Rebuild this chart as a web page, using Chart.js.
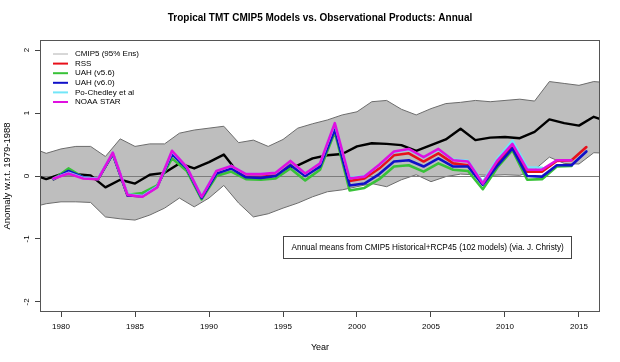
<!DOCTYPE html>
<html>
<head>
<meta charset="utf-8">
<script src="https://cdn.jsdelivr.net/npm/chart.js@4.4.1/dist/chart.umd.min.js"></script>
<style>
  html, body { margin: 0; padding: 0; background: #fff; }
  #wrap { width: 620px; height: 362px; }
</style>
</head>
<body>
<div id="wrap"><canvas id="chart"></canvas></div>
<script>
// CMIP5 ensemble (mean + 95% envelope), one value per year
const modelYears = [1978, 1979, 1980, 1981, 1982, 1983, 1984, 1985, 1986, 1987,
  1988, 1989, 1990, 1991, 1992, 1993, 1994, 1995, 1996, 1997,
  1998, 1999, 2000, 2001, 2002, 2003, 2004, 2005, 2006, 2007,
  2008, 2009, 2010, 2011, 2012, 2013, 2014, 2015, 2016, 2017];
const cmipMean = [0.03, -0.05, 0.03, 0.03, 0.01, -0.18, -0.06, -0.12, 0.02, 0.05,
  0.20, 0.12, 0.22, 0.34, 0.04, -0.04, -0.03, 0.10, 0.17, 0.28,
  0.33, 0.35, 0.47, 0.52, 0.51, 0.49, 0.40, 0.49, 0.58, 0.75,
  0.57, 0.61, 0.62, 0.60, 0.70, 0.90, 0.84, 0.80, 0.94, 0.86];
const cmipUpper = [0.45, 0.36, 0.43, 0.47, 0.47, 0.31, 0.59, 0.47, 0.51, 0.51,
  0.68, 0.73, 0.76, 0.79, 0.53, 0.57, 0.47, 0.58, 0.76, 0.83,
  0.89, 0.97, 1.02, 1.18, 1.20, 1.06, 0.97, 1.07, 1.15, 1.17,
  1.20, 1.18, 1.20, 1.22, 1.19, 1.50, 1.47, 1.44, 1.50, 1.48];
const cmipLower = [-0.50, -0.44, -0.41, -0.41, -0.42, -0.65, -0.68, -0.70, -0.62, -0.51,
  -0.35, -0.49, -0.35, -0.15, -0.43, -0.65, -0.60, -0.51, -0.43, -0.33,
  -0.25, -0.22, -0.17, -0.12, -0.17, -0.06, 0.02, -0.09, -0.01, 0.03,
  0.02, 0.01, 0.02, 0.01, 0.10, 0.30, 0.20, 0.19, 0.37, 0.36];

// observational products, annual means
const obsYears = [1979, 1980, 1981, 1982, 1983, 1984, 1985, 1986, 1987, 1988,
  1989, 1990, 1991, 1992, 1993, 1994, 1995, 1996, 1997, 1998,
  1999, 2000, 2001, 2002, 2003, 2004, 2005, 2006, 2007, 2008,
  2009, 2010, 2011, 2012, 2013, 2014, 2015];
const rss = [-0.05, 0.06, -0.03, -0.05, 0.36, -0.31, -0.32, -0.17, 0.37, 0.13,
  -0.34, 0.06, 0.14, 0.01, 0.01, 0.03, 0.22, 0.02, 0.18, 0.80,
  -0.08, -0.04, 0.12, 0.33, 0.36, 0.23, 0.36, 0.20, 0.17, -0.12,
  0.22, 0.49, 0.07, 0.07, 0.24, 0.25, 0.46];
const uah56 = [-0.05, 0.12, -0.02, -0.05, 0.35, -0.30, -0.27, -0.15, 0.28, 0.08,
  -0.37, 0.00, 0.07, -0.05, -0.06, -0.04, 0.12, -0.07, 0.10, 0.70,
  -0.23, -0.19, -0.05, 0.15, 0.17, 0.07, 0.20, 0.10, 0.08, -0.21,
  0.14, 0.41, -0.06, -0.05, 0.15, 0.16, null];
const uah60 = [-0.05, 0.08, -0.02, -0.05, 0.35, -0.31, -0.32, -0.17, 0.35, 0.12,
  -0.35, 0.04, 0.12, -0.02, -0.03, 0.00, 0.17, 0.00, 0.15, 0.74,
  -0.15, -0.12, 0.03, 0.23, 0.25, 0.15, 0.28, 0.15, 0.15, -0.14,
  0.17, 0.44, 0.00, -0.01, 0.17, 0.17, 0.39];
const poChedley = [-0.04, 0.05, -0.03, -0.04, 0.37, -0.29, -0.32, -0.17, 0.39, 0.14,
  -0.32, 0.08, 0.16, 0.03, 0.03, 0.05, 0.23, 0.04, 0.20, 0.83,
  -0.03, 0.00, 0.17, 0.38, 0.42, 0.30, 0.42, 0.26, 0.24, -0.10,
  0.28, 0.56, 0.14, 0.13, null, null, null];
const noaaStar = [-0.04, 0.04, -0.04, -0.05, 0.37, -0.30, -0.33, -0.18, 0.40, 0.14,
  -0.33, 0.08, 0.16, 0.03, 0.03, 0.05, 0.24, 0.04, 0.20, 0.84,
  -0.04, -0.01, 0.18, 0.39, 0.43, 0.30, 0.43, 0.25, 0.23, -0.12,
  0.25, 0.51, 0.10, 0.10, 0.25, 0.25, null];

const xTicks = [1980, 1985, 1990, 1995, 2000, 2005, 2010, 2015];
const yTicks = [-2, -1, 0, 1, 2];
const noteText = 'Annual means from CMIP5 Historical+RCP45 (102 models) (via. J. Christy)';

const FONT = '"Liberation Sans", Arial, Helvetica, sans-serif';

// model values sit on the year, annual obs means at mid-year
function modelPts(vals) { return modelYears.map((yr, i) => ({x: yr, y: vals[i]})); }
function obsPts(vals) { return obsYears.map((yr, i) => ({x: yr + 0.5, y: vals[i]})); }

const obsSets = [
  {label: 'RSS', data: obsPts(rss), borderColor: '#e8101a', order: 5},
  {label: 'UAH (v5.6)', data: obsPts(uah56), borderColor: '#38c238', order: 4},
  {label: 'UAH (v6.0)', data: obsPts(uah60), borderColor: '#1010c8', order: 3},
  {label: 'Po-Chedley et al', data: obsPts(poChedley), borderColor: '#72e6f8', order: 2},
  {label: 'NOAA STAR', data: obsPts(noaaStar), borderColor: '#e010e0', order: 1}
];
obsSets.forEach(d => { d.borderWidth = 2.6; });

const legendEntries = [{text: 'CMIP5 (95% Ens)', color: '#b0b0b0', width: 1}]
  .concat(obsSets.map(d => ({text: d.label, color: d.borderColor, width: 2})));

const decor = {
  id: 'decor',
  afterLayout(chart) {
    const ca = chart.chartArea;
    if (chart.titleBlock) { chart.titleBlock.left = ca.left; chart.titleBlock.right = ca.right; }
  },
  afterDatasetDraw(chart, args) {
    if (args.index !== 1) return; // zero line goes over the envelope
    const {ctx, chartArea: ca} = chart;
    const py = Math.round(chart.scales.y.getPixelForValue(0)) + 0.5;
    ctx.save();
    ctx.strokeStyle = '#7c7c7c';
    ctx.lineWidth = 1;
    ctx.beginPath(); ctx.moveTo(ca.left, py); ctx.lineTo(ca.right, py); ctx.stroke();
    ctx.restore();
  },
  afterDraw(chart) {
    const {ctx, chartArea: ca, scales} = chart;
    ctx.save();
    // plot frame
    ctx.strokeStyle = '#555';
    ctx.lineWidth = 1;
    ctx.strokeRect(Math.round(ca.left) + 0.5, Math.round(ca.top) + 0.5,
      Math.round(ca.right - ca.left) - 1, Math.round(ca.bottom - ca.top) - 1);
    // legend, no box
    ctx.font = '8px ' + FONT;
    ctx.textBaseline = 'middle';
    ctx.textAlign = 'left';
    legendEntries.forEach((e, i) => {
      const yy = ca.top + 14 + i * 9.6;
      ctx.strokeStyle = e.color;
      ctx.lineWidth = e.width;
      ctx.beginPath(); ctx.moveTo(ca.left + 13, yy); ctx.lineTo(ca.left + 28, yy); ctx.stroke();
      ctx.fillStyle = '#000';
      ctx.fillText(e.text, ca.left + 35, yy);
    });
    // note box
    ctx.font = '8.2px ' + FONT;
    const nx = Math.round(scales.x.getPixelForValue(1995)) + 0.5;
    const ny = Math.round(scales.y.getPixelForValue(-0.95)) + 0.5;
    const w = Math.round(ctx.measureText(noteText).width + 16);
    ctx.strokeStyle = '#444';
    ctx.lineWidth = 1;
    ctx.strokeRect(nx, ny, w, 22);
    ctx.fillStyle = '#000';
    ctx.fillText(noteText, nx + 8, ny + 11);
    ctx.restore();
  }
};

new Chart(document.getElementById('chart'), {
  type: 'line',
  data: {
    datasets: [
      {label: 'CMIP5 upper', data: modelPts(cmipUpper), borderColor: '#6c6c6c', borderWidth: 1,
        backgroundColor: '#bebebe', fill: '+1', order: 8},
      {label: 'CMIP5 lower', data: modelPts(cmipLower), borderColor: '#6c6c6c', borderWidth: 1,
        fill: false, order: 7},
      {label: 'CMIP5 mean', data: modelPts(cmipMean), borderColor: '#000', borderWidth: 2.4,
        fill: false, order: 6}
    ].concat(obsSets)
  },
  options: {
    responsive: true,
    maintainAspectRatio: false,
    devicePixelRatio: 1,
    animation: false,
    layout: {padding: {top: 0, right: 20, bottom: 0, left: 0}},
    elements: {
      point: {radius: 0, hoverRadius: 0},
      line: {tension: 0, borderJoinStyle: 'round', borderCapStyle: 'round', fill: false}
    },
    datasets: {line: {clip: 0, spanGaps: false}},
    plugins: {
      legend: {display: false},
      tooltip: {enabled: false},
      title: {
        display: true,
        text: 'Tropical TMT CMIP5 Models vs. Observational Products: Annual',
        color: '#000',
        font: {family: FONT, size: 10, weight: 'bold', lineHeight: 1.2},
        padding: {top: 12, bottom: 16}
      }
    },
    scales: {
      x: {
        type: 'linear',
        min: 1978.58,
        max: 2016.42,
        afterBuildTicks: s => { s.ticks = xTicks.map(v => ({value: v})); },
        afterFit: s => { s.height = 50; },
        ticks: {callback: v => String(v), color: '#000', font: {family: FONT, size: 8},
          padding: 5, maxRotation: 0, autoSkip: false},
        grid: {drawOnChartArea: false, drawTicks: true, tickLength: 5, tickColor: '#444'},
        border: {display: false},
        title: {display: true, text: 'Year', color: '#000', font: {family: FONT, size: 9},
          padding: {top: 0, bottom: 9}}
      },
      y: {
        type: 'linear',
        min: -2.16,
        max: 2.16,
        afterBuildTicks: s => { s.ticks = yTicks.map(v => ({value: v})); },
        afterFit: s => { s.width = 40; },
        ticks: {callback: v => String(v), color: '#000', font: {family: FONT, size: 8},
          minRotation: 90, maxRotation: 90, crossAlign: 'center', padding: 4.5, autoSkip: false},
        grid: {drawOnChartArea: false, drawTicks: true, tickLength: 5, tickColor: '#444'},
        border: {display: false},
        title: {display: true, text: 'Anomaly w.r.t. 1979-1988', color: '#000',
          font: {family: FONT, size: 9.5}, padding: {top: 1.3, bottom: 0}}
      }
    }
  },
  plugins: [decor]
});
</script>
</body>
</html>
